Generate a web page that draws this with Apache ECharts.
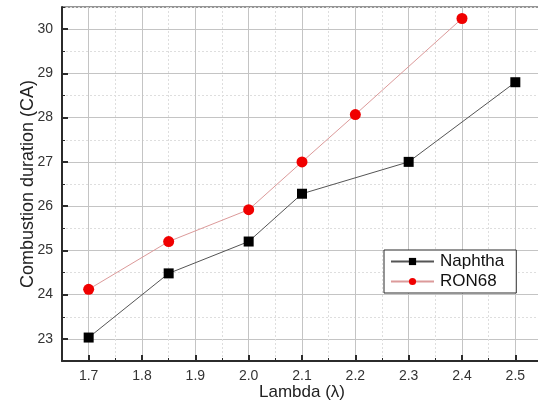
<!DOCTYPE html>
<html>
<head>
<meta charset="utf-8">
<script src="https://cdn.jsdelivr.net/npm/echarts@6/dist/echarts.min.js"></script>
<style>
  html, body { margin: 0; padding: 0; background: #fff; }
  #chart { width: 538px; height: 405px; }
</style>
</head>
<body>
<div id="chart"></div>
<script>
// data
const lambdaNaphtha = [1.7, 1.85, 2.0, 2.1, 2.3, 2.5];
const durNaphtha = [23.03, 24.48, 25.2, 26.28, 27.0, 28.8];
const lambdaRon = [1.7, 1.85, 2.0, 2.1, 2.2, 2.4];
const durRon = [24.12, 25.2, 25.92, 27.0, 28.07, 30.24];
const xTicks = [1.7, 1.8, 1.9, 2.0, 2.1, 2.2, 2.3, 2.4, 2.5];
const yTicks = [23, 24, 25, 26, 27, 28, 29, 30];

const font = 'Liberation Sans, Arial, sans-serif';
const dark = '#2b2b2b';

function pairs(xs, ys) {
  return xs.map((x, i) => [x, ys[i]]);
}

const chart = echarts.init(document.getElementById('chart'));

// light dotted half-step grid + short ticks
const minorAxis = {
  type: 'value',
  axisLine: { show: false },
  axisTick: { show: true, inside: true, length: 3, lineStyle: { color: dark, width: 1 } },
  axisLabel: { show: false },
  splitLine: { show: true, lineStyle: { color: '#dedede', type: [2, 2], width: 1 } }
};

const option = {
  backgroundColor: '#fff',
  animation: false,
  grid: {
    left: 62,
    top: 7,
    width: 480,
    height: 354,
    outerBoundsMode: 'none',
    containLabel: false,
    show: true,
    borderColor: dark,
    borderWidth: 1
  },
  legend: {
    left: 384,
    top: 250,
    orient: 'vertical',
    backgroundColor: '#fff',
    borderColor: dark,
    borderWidth: 1,
    borderRadius: 0,
    padding: [3, 12, 3, 6],
    itemGap: 3,
    itemWidth: 43,
    itemHeight: 9,
    textStyle: { fontFamily: font, fontSize: 17, color: '#111', padding: [0, 0, 0, 1] },
    data: ['Naphtha', 'RON68']
  },
  xAxis: [
    Object.assign({}, minorAxis, {
      min: 1.65, max: 2.55, interval: 0.05, position: 'bottom'
    }),
    {
      type: 'value',
      min: 1.65,
      max: 2.55,
      splitNumber: 9,
      position: 'bottom',
      name: 'Lambda (λ)',
      nameLocation: 'middle',
      nameGap: 23,
      nameMoveOverlap: false,
      nameTextStyle: { fontFamily: font, fontSize: 17, color: '#222' },
      axisLine: { show: true, onZero: false, lineStyle: { color: dark, width: 2 } },
      axisTick: { show: true, inside: true, length: 6, customValues: xTicks, lineStyle: { color: dark, width: 2 } },
      axisLabel: {
        show: true, margin: 8, customValues: xTicks,
        fontFamily: font, fontSize: 14, color: '#333',
        formatter: v => v.toFixed(1)
      },
      splitLine: { show: true, lineStyle: { color: '#c4c4c4', width: 1 } }
    }
  ],
  yAxis: [
    Object.assign({}, minorAxis, {
      min: 22.5, max: 30.5, interval: 0.5, position: 'left'
    }),
    {
      type: 'value',
      min: 22.5,
      max: 30.5,
      splitNumber: 8,
      position: 'left',
      name: 'Combustion duration (CA)',
      nameLocation: 'middle',
      nameGap: 25,
      nameMoveOverlap: false,
      nameTextStyle: { fontFamily: font, fontSize: 18, color: '#222' },
      axisLine: { show: true, onZero: false, lineStyle: { color: dark, width: 2 } },
      axisTick: { show: true, inside: true, length: 6, customValues: yTicks, lineStyle: { color: dark, width: 2 } },
      axisLabel: {
        show: true, margin: 9, customValues: yTicks,
        fontFamily: font, fontSize: 14, color: '#333'
      },
      splitLine: { show: true, lineStyle: { color: '#c4c4c4', width: 1 } }
    }
  ],
  series: [
    {
      name: 'Naphtha',
      type: 'line',
      xAxisIndex: 1,
      yAxisIndex: 1,
      data: pairs(lambdaNaphtha, durNaphtha),
      symbol: 'rect',
      symbolSize: 10,
      lineStyle: { color: '#555', width: 1 },
      itemStyle: { color: '#000' },
      z: 3
    },
    {
      name: 'RON68',
      type: 'line',
      xAxisIndex: 1,
      yAxisIndex: 1,
      data: pairs(lambdaRon, durRon),
      symbol: 'circle',
      symbolSize: 11,
      lineStyle: { color: '#dc9a9a', width: 1 },
      itemStyle: { color: '#f00000' },
      z: 4
    }
  ]
};

chart.setOption(option);
</script>
</body>
</html>
